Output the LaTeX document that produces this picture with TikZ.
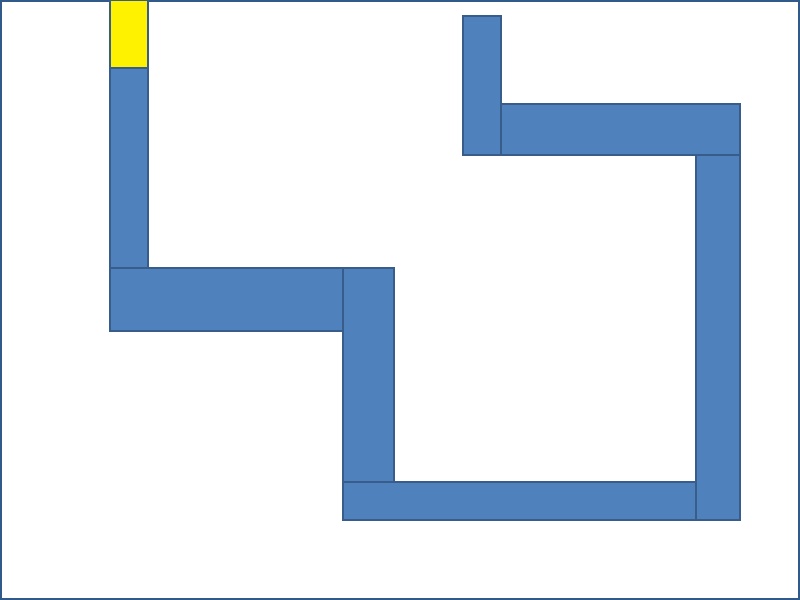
\documentclass[tikz,border=0pt]{standalone}
\definecolor{segfill}{HTML}{4F81BD}
\definecolor{segline}{HTML}{385D8A}
\definecolor{frameline}{HTML}{2F5A8A}
\begin{document}
\begin{tikzpicture}[x=0.75pt,y=-0.75pt,
  seg/.style={fill=segfill,draw=segline,line width=1pt},
  headseg/.style={fill=yellow,draw=segline,line width=1pt}]
\useasboundingbox (0,0) rectangle (800,600);
\fill[white] (0,0) rectangle (800,600);
\draw[frameline,line width=1.5pt] (0.75,0.75) rectangle (799.25,599.25);
% path segments
\draw[seg] (110,68) rectangle (148,268);
\draw[seg] (110,268) rectangle (343,331);
\draw[seg] (343,268) rectangle (394,482);
\draw[seg] (343,482) rectangle (696,520);
\draw[seg] (696,155) rectangle (740,520);
\draw[seg] (501,104) rectangle (740,155);
\draw[seg] (463,16) rectangle (501,155);
% head
\draw[headseg] (110,0) rectangle (148,68);
\end{tikzpicture}
\end{document}
